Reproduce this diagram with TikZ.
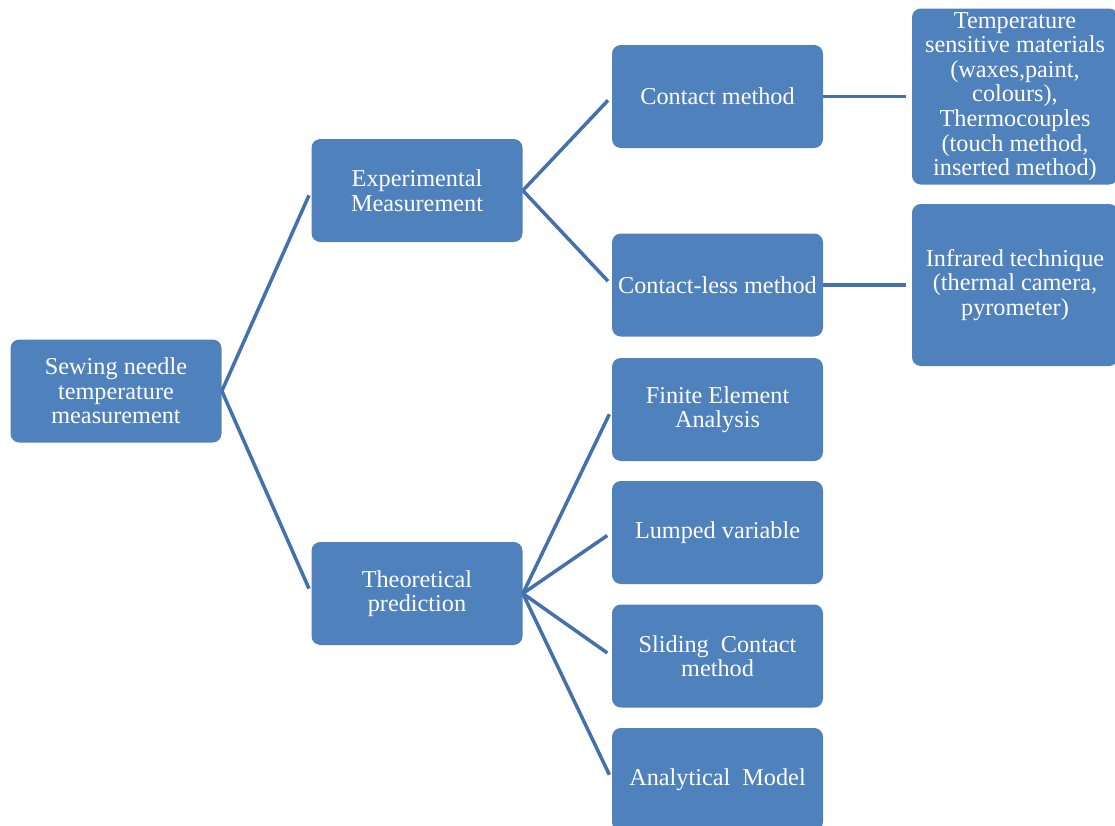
\documentclass[tikz,border=0pt]{standalone}
\usepackage{fontspec}
\setmainfont{Liberation Serif}
\usepackage{tikz}

\definecolor{boxblue}{HTML}{4F81BD}
\definecolor{lineblue}{HTML}{4471AC}

\begin{document}
\begin{tikzpicture}[
    box/.style={fill=boxblue, rounded corners=5pt, text=white, align=center,
      minimum width=4.22cm, minimum height=2.06cm, inner sep=2pt,
      font=\fontsize{13.8}{14}\selectfont},
    wide/.style={box, minimum width=4.12cm},
    link/.style={draw=lineblue, line width=2pt, shorten >=3pt}]
        \useasboundingbox (0, 0) rectangle (22.3, -16.5);

        \node [box] (root) at (2.32, -7.82) {Sewing needle\\temperature\\measurement};
        \node [box] (exp) at (8.34, -3.81) {Experimental\\Measurement};
        \node [box] (theo) at (8.34, -11.87) {Theoretical\\prediction};

        \node [box] (contact) at (14.35, -1.93) {Contact method};
        \node [box] (cless) at (14.35, -5.70) {Contact-less method};
        \node [box] (fea) at (14.35, -8.19) {Finite Element\\Analysis};
        \node [box] (lumped) at (14.35, -10.65) {Lumped variable};
        \node [box] (sliding) at (14.35, -13.12) {Sliding~~Contact\\method};
        \node [box] (analytic) at (14.35, -15.59) {Analytical~~Model};

        \node [wide, minimum height=3.52cm] (materials) at (20.3, -1.93) {Temperature\\sensitive materials\\(waxes,paint,\\colours),\\Thermocouples\\(touch method,\\inserted method)};
        \node [wide, minimum height=3.24cm] (infrared) at (20.3, -5.70) {Infrared technique\\(thermal camera,\\pyrometer)};

        \draw [link] (root.east) -- (exp.west);
        \draw [link] (root.east) -- (theo.west);

        \draw [link] (exp.east) -- (contact.west);
        \draw [link] (exp.east) -- (cless.west);

        \foreach \m in {fea, lumped, sliding, analytic}
          \draw [link] (theo.east) -- (\m.west);

        \draw [link] (contact.east) -- (materials.west);
        \draw [link] (cless.east) -- (infrared.west);
      \end{tikzpicture}
\end{document}
